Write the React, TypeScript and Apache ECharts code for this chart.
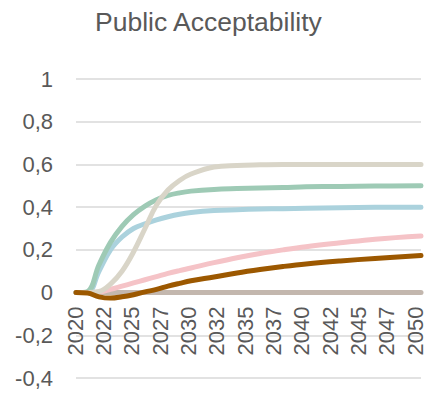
import React, { useEffect, useRef } from "react";
import * as echarts from "echarts";

const years = [2020, 2021, 2022, 2023, 2024, 2025, 2026, 2027, 2028, 2029, 2030, 2032, 2034, 2036, 2038, 2040, 2043, 2046, 2050];
const flatValues = [0, 0, 0, 0, 0, 0, 0, 0, 0, 0, 0, 0, 0, 0, 0, 0, 0, 0, 0];
const pinkValues = [0, 0, 0.002, 0.015, 0.03, 0.045, 0.06, 0.075, 0.09, 0.103, 0.115, 0.14, 0.163, 0.183, 0.2, 0.215, 0.233, 0.25, 0.265];
const blueValues = [0, 0, 0.1, 0.2, 0.26, 0.3, 0.322, 0.34, 0.355, 0.367, 0.375, 0.384, 0.388, 0.391, 0.393, 0.395, 0.397, 0.399, 0.4];
const greenValues = [0, 0.005, 0.13, 0.235, 0.31, 0.365, 0.405, 0.435, 0.455, 0.467, 0.475, 0.483, 0.487, 0.49, 0.492, 0.495, 0.497, 0.499, 0.5];
const beigeValues = [0, 0, 0.005, 0.04, 0.1, 0.19, 0.3, 0.41, 0.48, 0.525, 0.555, 0.588, 0.595, 0.598, 0.6, 0.6, 0.6, 0.6, 0.6];
const brownValues = [0, -0.002, -0.02, -0.026, -0.02, -0.01, 0.003, 0.015, 0.03, 0.043, 0.055, 0.073, 0.092, 0.108, 0.122, 0.134, 0.148, 0.16, 0.174];
const yTicks = { min: -0.4, max: 1, interval: 0.2 };
const xTicks = { min: 2020, max: 2050, interval: 2.5 };

const seriesDefs = [
  { name: "Flat", values: flatValues, color: "#C3B7AE" },
  { name: "Pink", values: pinkValues, color: "#F5C3C7" },
  { name: "Blue", values: blueValues, color: "#ABD2DD" },
  { name: "Green", values: greenValues, color: "#9ECAB5" },
  { name: "Beige", values: beigeValues, color: "#D9D5C8" },
  { name: "Brown", values: brownValues, color: "#9C5800" },
];

const GRID_TOP = 79;
const GRID_BOTTOM = 19;
const HEIGHT = 397;
const FONT = "Liberation Sans, Arial, sans-serif";

export default function App() {
  const ref = useRef<HTMLDivElement>(null);
  useEffect(() => {
    if (!ref.current) return;
    const chart = echarts.init(ref.current, null, { renderer: "svg" });
    const plotH = HEIGHT - GRID_TOP - GRID_BOTTOM;
    const zeroFromBottom = plotH * (0 - yTicks.min) / (yTicks.max - yTicks.min);
    chart.setOption({
      animation: false,
      title: {
        text: "Public Acceptability",
        left: 90,
        top: 3,
        textStyle: { fontFamily: FONT, fontSize: 26.5, fontWeight: "normal", color: "#595959" },
      },
      grid: [
        { left: 76, right: 6, top: GRID_TOP, bottom: GRID_BOTTOM, containLabel: false, outerBoundsMode: "none" },
        { left: 75, right: 12, top: GRID_TOP, bottom: GRID_BOTTOM + zeroFromBottom, containLabel: false, outerBoundsMode: "none" },
      ],
      xAxis: [
        {
          type: "value",
          gridIndex: 0,
          min: xTicks.min,
          max: xTicks.max,
          interval: xTicks.interval,
          axisLine: { show: false, onZero: false },
          axisTick: { show: false },
          splitLine: { show: false },
          axisLabel: { show: false },
        },
        {
          type: "value",
          gridIndex: 1,
          min: xTicks.min,
          max: xTicks.max,
          interval: xTicks.interval,
          axisLine: { show: false, onZero: false },
          axisTick: { show: false },
          splitLine: { show: false },
          axisLabel: {
            rotate: 90,
            margin: 14,
            fontSize: 22,
            color: "#595959",
            fontFamily: FONT,
            formatter: (v: number) => String(Math.floor(v)),
          },
        },
      ],
      yAxis: [
        {
          type: "value",
          gridIndex: 0,
          min: yTicks.min,
          max: yTicks.max,
          interval: yTicks.interval,
          axisLine: { show: false, onZero: false },
          axisTick: { show: false },
          splitLine: { lineStyle: { color: "#D9D9D9", width: 1.5 } },
          axisLabel: {
            margin: 23,
            fontSize: 22,
            color: "#595959",
            fontFamily: FONT,
            formatter: (v: number) => String(Math.round(v * 10) / 10).replace(".", ","),
          },
        },
        {
          type: "value",
          gridIndex: 1,
          min: 0,
          max: 1,
          show: false,
          axisLine: { show: false, onZero: false },
          splitLine: { show: false },
        },
      ],
      series: seriesDefs.map((s) => ({
        name: s.name,
        type: "line",
        xAxisIndex: 0,
        yAxisIndex: 0,
        data: years.map((y, i) => [y, s.values[i]]),
        smooth: 0.4,
        showSymbol: false,
        symbol: "none",
        lineStyle: { color: s.color, width: 5, cap: "round", join: "round" },
        itemStyle: { color: s.color },
      })),
    });
    return () => chart.dispose();
  }, []);
  return <div ref={ref} style={{ width: 427, height: 397, position: "absolute", left: 0, top: 0 }} />;
}
